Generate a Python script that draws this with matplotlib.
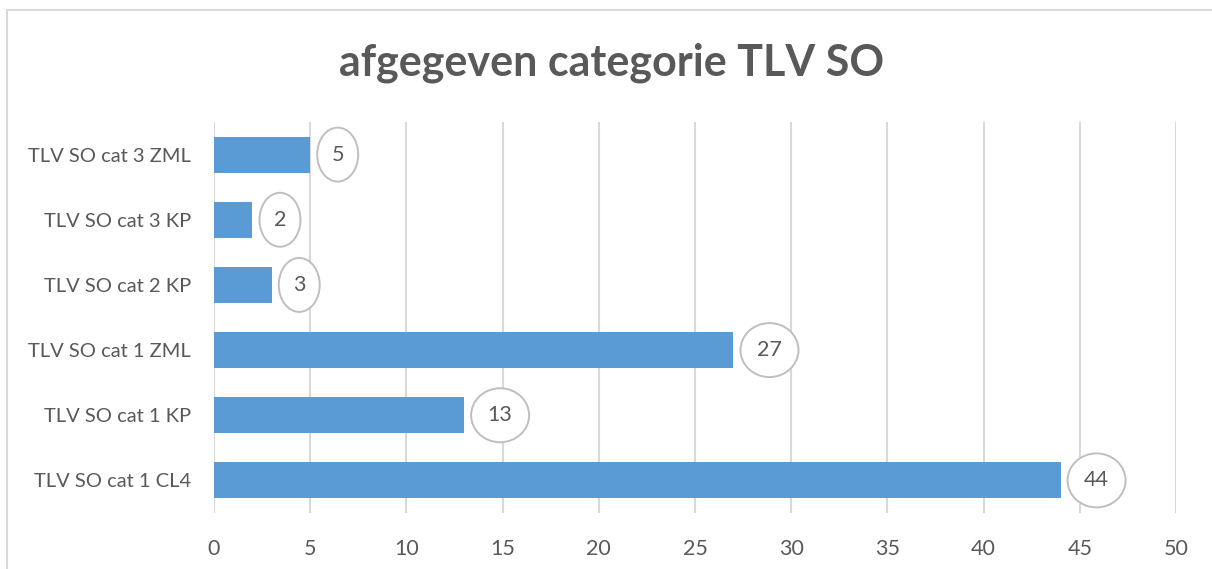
import matplotlib
matplotlib.use("Agg")
import matplotlib.pyplot as plt
from matplotlib.patches import Rectangle, Ellipse
from matplotlib.transforms import ScaledTranslation

# data (top to bottom as in the chart)
categories = ["TLV SO cat 3 ZML", "TLV SO cat 3 KP", "TLV SO cat 2 KP",
              "TLV SO cat 1 ZML", "TLV SO cat 1 KP", "TLV SO cat 1 CL4"]
values = [5, 2, 3, 27, 13, 44]
x_ticks = [0, 5, 10, 15, 20, 25, 30, 35, 40, 45, 50]

plt.rcParams['font.family'] = ['Lato', 'DejaVu Sans']
text_col = '#595959'
bar_col = '#5b9bd5'
grid_col = '#d9d9d9'

fig = plt.figure(figsize=(12.12, 5.69), dpi=100)
ax = fig.add_axes([214/1212, 1 - 513/569, (1176 - 214)/1212, (513 - 122)/569])

# chart border (cropped at right and bottom)
fig.patches.append(Rectangle((7/1212, -0.1), 1.2, 1 - 10/569 + 0.1,
                             transform=fig.transFigure, fill=False,
                             ec='#d9d9d9', lw=1.5))

y = list(range(len(categories)))
ax.barh(y, values, height=0.55, color=bar_col, zorder=2)

# data labels in ellipses (sizes in pixels -> inches at dpi 100)
for yi, v in zip(y, values):
    w = 0.41 if v < 10 else 0.58
    h = 0.54
    cx = 0.07 + w / 2
    trans = fig.dpi_scale_trans + ScaledTranslation(v, yi, ax.transData)
    ax.add_patch(Ellipse((cx, 0), w, h, transform=trans, fc='white',
                         ec='#bfbfbf', lw=1.4, zorder=3, clip_on=False))
    ax.text(cx, 0, str(v), transform=trans, ha='center', va='center',
            fontsize=15.5, color=text_col, zorder=4)

ax.set_ylim(len(categories) - 0.5, -0.5)
ax.set_xlim(0, 50)
ax.set_xticks(x_ticks)
ax.set_yticks(y)
ax.set_yticklabels(categories)
ax.tick_params(length=0, labelcolor=text_col)
ax.tick_params(axis='x', pad=19, labelsize=15.5)
ax.tick_params(axis='y', pad=16.5, labelsize=14.5)
for s in ax.spines.values():
    s.set_visible(False)
ax.grid(axis='x', color=grid_col, lw=1.5, zorder=0)
ax.set_axisbelow(True)

fig.text(612/1212, 1 - 63/569, "afgegeven categorie TLV SO", ha='center', va='center',
         fontsize=31, fontweight='bold', color=text_col)

fig.savefig("out.png", dpi=100)
